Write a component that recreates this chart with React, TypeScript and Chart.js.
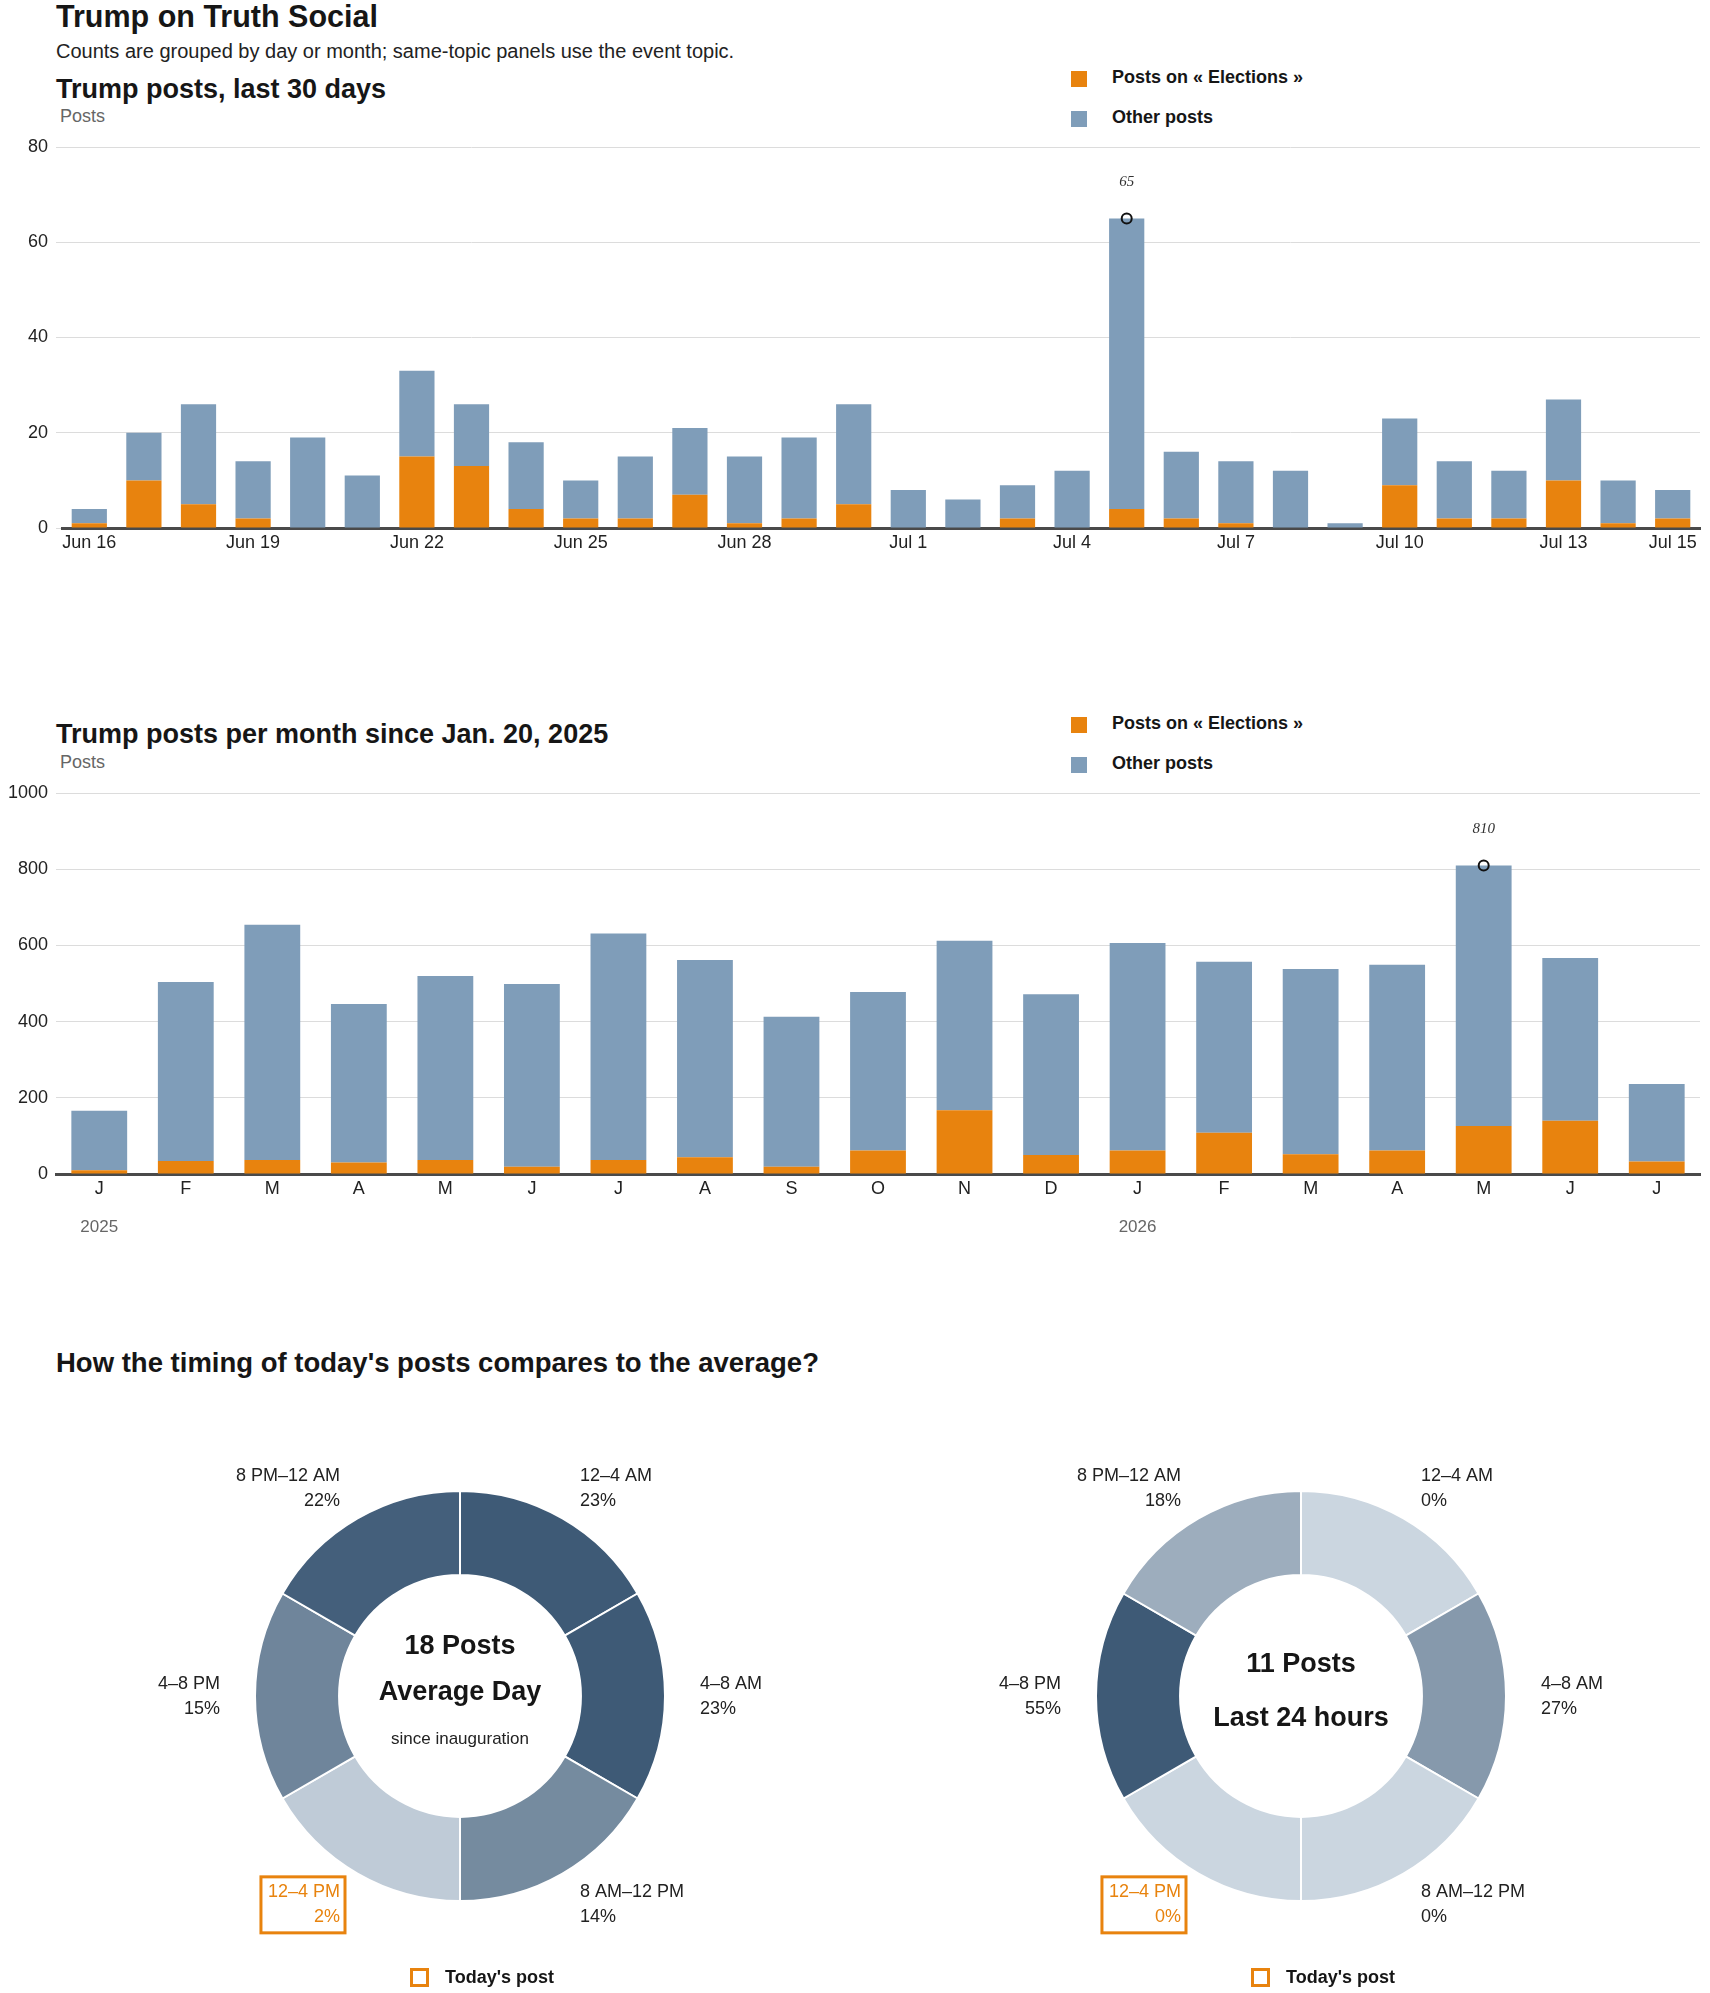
import { useEffect, useRef } from 'react';
import { Chart, registerables } from 'chart.js';

Chart.register(...registerables);

document.body.style.margin = '0';

const ORANGE = '#e8830e';
const BLUE = '#7f9db9';
const INK = '#222';
const GREY = '#666';
const GRID = '#dcdcdc';
const LIGHT = [203, 214, 224];
const DARK = [62, 90, 118];
const SANS = '"Liberation Sans", Arial, sans-serif';

// last 30 days
const dayLabels = [
  'Jun 16', 'Jun 17', 'Jun 18', 'Jun 19', 'Jun 20', 'Jun 21', 'Jun 22', 'Jun 23', 'Jun 24', 'Jun 25',
  'Jun 26', 'Jun 27', 'Jun 28', 'Jun 29', 'Jun 30', 'Jul 1', 'Jul 2', 'Jul 3', 'Jul 4', 'Jul 5',
  'Jul 6', 'Jul 7', 'Jul 8', 'Jul 9', 'Jul 10', 'Jul 11', 'Jul 12', 'Jul 13', 'Jul 14', 'Jul 15',
];
const dayElections = [1, 10, 5, 2, 0, 0, 15, 13, 4, 2, 2, 7, 1, 2, 5, 0, 0, 2, 0, 4, 2, 1, 0, 0, 9, 2, 2, 10, 1, 2];
const dayOther = [3, 10, 21, 12, 19, 11, 18, 13, 14, 8, 13, 14, 14, 17, 21, 8, 6, 7, 12, 61, 14, 13, 12, 1, 14, 12, 10, 17, 9, 6];

// per month since inauguration
const monthLabels = ['J', 'F', 'M', 'A', 'M', 'J', 'J', 'A', 'S', 'O', 'N', 'D', 'J', 'F', 'M', 'A', 'M', 'J', 'J'];
const monthElections = [10, 34, 37, 30, 37, 19, 37, 44, 19, 62, 167, 50, 62, 108, 52, 62, 126, 140, 33];
const monthOther = [156, 470, 617, 416, 483, 480, 594, 518, 394, 416, 445, 422, 544, 449, 486, 487, 684, 427, 203];
const yearIndex = [0, 12];
const yearLabels = ['2025', '2026'];

// timing of posts (4-hour slots, clockwise from midnight)
const slotLabels = ['12–4 AM', '4–8 AM', '8 AM–12 PM', '12–4 PM', '4–8 PM', '8 PM–12 AM'];
const slotHours = [4, 4, 4, 4, 4, 4];
const avgShares = [23, 23, 14, 2, 15, 22];
const todayShares = [0, 27, 0, 0, 55, 18];
const todaySlot = 3;

function shade(share: number, max: number) {
  const t = max > 0 ? share / max : 0;
  const c = LIGHT.map((l, i) => Math.round(l + (DARK[i] - l) * t));
  return `rgb(${c[0]}, ${c[1]}, ${c[2]})`;
}

// circle + value on the tallest stacked bar
const peakPlugin = {
  id: 'peak',
  afterDatasetsDraw(chart: any) {
    const sets = chart.data.datasets;
    const totals = sets[0].data.map((v: number, i: number) => v + sets[1].data[i]);
    const max = Math.max(...totals);
    const idx = totals.indexOf(max);
    const x = chart.scales.x.getPixelForValue(idx);
    const y = chart.scales.y.getPixelForValue(max);
    const ctx = chart.ctx;
    ctx.save();
    ctx.beginPath();
    ctx.arc(x, y, 5, 0, Math.PI * 2);
    ctx.strokeStyle = '#111';
    ctx.lineWidth = 2;
    ctx.stroke();
    ctx.fillStyle = '#333';
    ctx.font = 'italic 15px "Liberation Serif", serif';
    ctx.textAlign = 'center';
    ctx.textBaseline = 'middle';
    ctx.fillText(String(max), x, y - 36);
    ctx.restore();
  },
};

const yearPlugin = {
  id: 'years',
  afterDraw(chart: any, _args: any, opts: any) {
    if (!opts || !opts.index) return;
    const ctx = chart.ctx;
    ctx.save();
    ctx.fillStyle = GREY;
    ctx.font = `17px ${SANS}`;
    ctx.textAlign = 'center';
    ctx.textBaseline = 'middle';
    opts.index.forEach((i: number, k: number) => {
      ctx.fillText(opts.labels[k], chart.scales.x.getPixelForValue(i), chart.chartArea.bottom + 53);
    });
    ctx.restore();
  },
};

interface BarPanelProps {
  top: number;
  height: number;
  padTop: number;
  axisHeight: number;
  axisWidth: number;
  tickLen: number;
  labels: string[];
  elections: number[];
  other: number[];
  yMax: number;
  yStep: number;
  every: number;
  years?: { index: number[]; labels: string[] };
}

function BarPanel(p: BarPanelProps) {
  const canvasRef = useRef<HTMLCanvasElement>(null);

  useEffect(() => {
    if (!canvasRef.current) return;
    const last = p.labels.length - 1;
    const chart = new Chart(canvasRef.current, {
      type: 'bar',
      data: {
        labels: p.labels,
        datasets: [
          { label: 'Posts on « Elections »', data: p.elections, backgroundColor: ORANGE },
          { label: 'Other posts', data: p.other, backgroundColor: BLUE },
        ],
      },
      options: {
        animation: false,
        responsive: false,
        events: [],
        layout: { padding: { top: p.padTop, right: 10, left: 0, bottom: 0 } },
        datasets: { bar: { barPercentage: 0.645, categoryPercentage: 1 } },
        plugins: {
          legend: { display: false },
          tooltip: { enabled: false },
          years: p.years || {},
        } as any,
        scales: {
          x: {
            stacked: true,
            grid: { display: false, drawTicks: false },
            border: { display: true, color: '#4a4a4a', width: 3 },
            ticks: {
              autoSkip: false,
              maxRotation: 0,
              padding: 4,
              color: INK,
              font: { family: SANS, size: 18 },
              callback: (_v: any, i: number) => (i % p.every === 0 || i === last ? p.labels[i] : ''),
            },
            afterFit: (s: any) => {
              s.height = p.axisHeight;
            },
          },
          y: {
            stacked: true,
            min: 0,
            max: p.yMax,
            ticks: {
              stepSize: p.yStep,
              padding: 8,
              color: INK,
              font: { family: SANS, size: 18 },
              callback: (v: any) => String(v),
            },
            grid: { color: GRID, lineWidth: 1, drawTicks: p.tickLen > 0, tickLength: p.tickLen, tickColor: GRID },
            border: { display: false },
            afterFit: (s: any) => {
              s.width = p.axisWidth;
            },
          },
        },
      },
      plugins: [peakPlugin, yearPlugin],
    });
    return () => chart.destroy();
  }, []);

  return (
    <canvas
      ref={canvasRef}
      width={1710}
      height={p.height}
      style={{ position: 'absolute', left: 0, top: p.top, width: 1710, height: p.height }}
    />
  );
}

// labels around the ring, centre text and the box around today's slot
const ringPlugin = {
  id: 'ring',
  afterDraw(chart: any, _args: any, opts: any) {
    const ctx = chart.ctx;
    const meta = chart.getDatasetMeta(0);
    ctx.save();
    ctx.textBaseline = 'middle';
    meta.data.forEach((arc: any, i: number) => {
      const { x, y, startAngle, endAngle, outerRadius } = arc.getProps(
        ['x', 'y', 'startAngle', 'endAngle', 'outerRadius'],
        true
      );
      const mid = (startAngle + endAngle) / 2;
      const r = outerRadius + 35;
      const lx = x + Math.cos(mid) * r;
      const ly = y + Math.sin(mid) * r;
      const c = Math.cos(mid);
      const align = c > 0.01 ? 'left' : c < -0.01 ? 'right' : 'center';
      const lines = [chart.data.labels[i], `${opts.shares[i]}%`];
      const hot = i === opts.today;
      ctx.font = `18px ${SANS}`;
      ctx.fillStyle = hot ? ORANGE : INK;
      ctx.textAlign = align;
      ctx.fillText(lines[0], lx, ly - 12);
      ctx.fillText(lines[1], lx, ly + 13);
      if (hot) {
        const w = Math.max(...lines.map((l: string) => ctx.measureText(l).width));
        const right = align === 'right' ? lx : lx + w;
        ctx.strokeStyle = ORANGE;
        ctx.lineWidth = 3;
        ctx.strokeRect(right - w - 7, ly - 27, w + 12, 56);
      }
    });
    const cx = (chart.chartArea.left + chart.chartArea.right) / 2;
    const cy = (chart.chartArea.top + chart.chartArea.bottom) / 2;
    ctx.textAlign = 'center';
    ctx.fillStyle = '#161616';
    opts.center.forEach((t: string, k: number) => {
      ctx.font = `bold 27px ${SANS}`;
      ctx.fillText(t, cx, cy + opts.centerY[k]);
    });
    if (opts.sub) {
      ctx.font = `17px ${SANS}`;
      ctx.fillStyle = INK;
      ctx.fillText(opts.sub, cx, cy + 43);
    }
    ctx.restore();
  },
};

interface DonutProps {
  cx: number;
  cy: number;
  shares: number[];
  center: string[];
  centerY: number[];
  sub?: string;
}

function TimingDonut({ cx, cy, shares, center, centerY, sub }: DonutProps) {
  const canvasRef = useRef<HTMLCanvasElement>(null);
  const W = 760;
  const H = 560;

  useEffect(() => {
    if (!canvasRef.current) return;
    const max = Math.max(...shares);
    const chart = new Chart(canvasRef.current, {
      type: 'doughnut',
      data: {
        labels: slotLabels,
        datasets: [
          {
            data: slotHours,
            backgroundColor: shares.map((s) => shade(s, max)),
            borderColor: '#fff',
            borderWidth: 2,
            hoverOffset: 0,
          },
        ],
      },
      options: {
        animation: false,
        responsive: false,
        events: [],
        cutout: '59%',
        layout: { padding: { left: (W - 412) / 2, right: (W - 412) / 2, top: (H - 412) / 2, bottom: (H - 412) / 2 } },
        plugins: {
          legend: { display: false },
          tooltip: { enabled: false },
          ring: { shares, today: todaySlot, center, centerY, sub },
        } as any,
      },
      plugins: [ringPlugin],
    });
    return () => chart.destroy();
  }, []);

  return (
    <>
      <canvas
        ref={canvasRef}
        width={W}
        height={H}
        style={{ position: 'absolute', left: cx - W / 2, top: cy - H / 2, width: W, height: H }}
      />
      <div
        style={{
          position: 'absolute',
          left: cx - 50,
          top: cy + 272,
          width: 13,
          height: 13,
          border: `3px solid ${ORANGE}`,
        }}
      />
      <Label x={cx - 15} y={cy + 281} size={18} heavy>
        Today's post
      </Label>
    </>
  );
}

function Label({ x, y, size, heavy, color, children }: any) {
  return (
    <div
      style={{
        position: 'absolute',
        left: x,
        top: y - size / 2,
        fontSize: size,
        lineHeight: `${size}px`,
        fontFamily: SANS,
        fontWeight: heavy ? 700 : 400,
        color: color || (heavy ? '#161616' : INK),
        whiteSpace: 'nowrap',
      }}
    >
      {children}
    </div>
  );
}

function Legend({ y }: { y: number }) {
  return (
    <>
      <div style={{ position: 'absolute', left: 1071, top: y - 6, width: 16, height: 16, background: ORANGE }} />
      <Label x={1112} y={y} size={18} heavy>
        Posts on « Elections »
      </Label>
      <div style={{ position: 'absolute', left: 1071, top: y + 34, width: 16, height: 16, background: BLUE }} />
      <Label x={1112} y={y + 40} size={18} heavy>
        Other posts
      </Label>
    </>
  );
}

export default function App() {
  return (
    <div style={{ position: 'relative', width: 1710, height: 1993, overflow: 'hidden', background: '#fff' }}>
      <Label x={56} y={16} size={30.5} heavy>
        Trump on Truth Social
      </Label>
      <Label x={56} y={51} size={20}>
        Counts are grouped by day or month; same-topic panels use the event topic.
      </Label>

      <Label x={56} y={89} size={27} heavy>
        Trump posts, last 30 days
      </Label>
      <Label x={60} y={116} size={18} color={GREY}>
        Posts
      </Label>
      <Legend y={77} />
      <BarPanel
        top={120}
        height={440}
        padTop={27}
        axisHeight={32}
        axisWidth={62}
        tickLen={6}
        labels={dayLabels}
        elections={dayElections}
        other={dayOther}
        yMax={80}
        yStep={20}
        every={3}
      />

      <Label x={56} y={734} size={27} heavy>
        Trump posts per month since Jan. 20, 2025
      </Label>
      <Label x={60} y={762} size={18} color={GREY}>
        Posts
      </Label>
      <Legend y={723} />
      <BarPanel
        top={766}
        height={480}
        padTop={27}
        axisHeight={72}
        axisWidth={56}
        tickLen={0}
        labels={monthLabels}
        elections={monthElections}
        other={monthOther}
        yMax={1000}
        yStep={200}
        every={1}
        years={{ index: yearIndex, labels: yearLabels }}
      />

      <Label x={56} y={1363} size={27.5} heavy>
        How the timing of today's posts compares to the average?
      </Label>
      <TimingDonut
        cx={460}
        cy={1696}
        shares={avgShares}
        center={['18 Posts', 'Average Day']}
        centerY={[-49, -3]}
        sub="since inauguration"
      />
      <TimingDonut
        cx={1301}
        cy={1696}
        shares={todayShares}
        center={['11 Posts', 'Last 24 hours']}
        centerY={[-31, 23]}
      />
    </div>
  );
}
